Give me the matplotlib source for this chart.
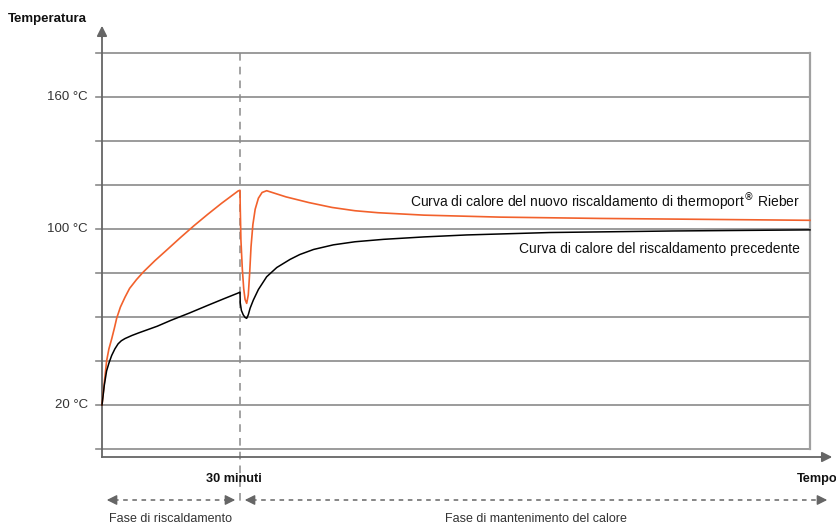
import numpy as np
import matplotlib
matplotlib.use("Agg")
import matplotlib.pyplot as plt
from matplotlib.patches import FancyArrowPatch

plt.rcParams['font.family'] = ['Liberation Sans', 'DejaVu Sans']

# time in minutes, temperature in °C
t_new = [0, 0.5, 1.0, 1.5, 2.1, 2.7, 3.2, 4, 5, 6, 7.5, 9, 11.5, 14, 17, 20, 23,
         26, 29.6, 30, 30.05, 30.2, 30.5, 30.8, 31.1, 31.45, 31.8, 32.1, 32.4,
         32.8, 33.3, 34, 34.8, 35.8, 37, 40, 45, 50, 55, 60, 70, 86.5, 108.3,
         130, 153.9]
temp_new = [20, 30, 40, 45.5, 50, 55, 59.5, 64.5, 69, 73, 77, 80.5, 85.6, 90.3,
            96, 101.5, 106.7, 111.7, 117.3, 117.6, 110, 95, 82, 73, 68, 66.2, 70,
            80, 92, 102, 109, 114, 116.6, 117.4, 116.6, 114.6, 112, 109.8, 108.3,
            107.4, 106.3, 105.4, 104.8, 104.4, 103.95]

t_old = [0, 0.5, 1.0, 1.5, 2.1, 2.8, 3.5, 4.2, 5.0, 6.5, 8, 10, 12, 15, 19, 23,
         26.5, 29.6, 30, 30.05, 30.3, 30.7, 31.1, 31.45, 31.8, 32.2, 32.9, 34,
         35.8, 38, 40.9, 43, 46, 50.3, 55, 61.2, 70, 79.3, 97.4, 124.1, 153.9]
temp_old = [20, 29, 35.5, 39, 42.5, 45.5, 47.8, 49.2, 50.2, 51.6, 52.8, 54.3,
            55.8, 58.5, 61.8, 65.3, 68.3, 70.9, 71.3, 66.5, 63, 61, 59.8, 59.4,
            61, 64, 67.7, 72.5, 78.3, 82.5, 86.2, 88.4, 90.7, 92.8, 94.2, 95.3,
            96.4, 97.3, 98.4, 99.1, 99.6]

grid_temps = np.arange(0, 181, 20)
tick_temps = [20, 100, 160]
tick_labels = ['20 °C', '100 °C', '160 °C']
t_switch = 30
t_end = 153.9

label_new = 'Curva di calore del nuovo riscaldamento di thermoport$^{®}$ Rieber'
label_old = 'Curva di calore del riscaldamento precedente'

orange = '#f2612c'
grey = '#8a8a8a'
dark = '#666666'

# scale: 4.6 px per minute, 2.2 px per degree, origin at pixel (102, 449)
W, H = 837, 525
fig = plt.figure(figsize=(W / 100, H / 100), dpi=100)
ax = fig.add_axes([0, 0, 1, 1])
ax.set_xlim(-102 / 4.6, (W - 102) / 4.6)
ax.set_ylim((449 - H) / 2.2, 449 / 2.2)
ax.axis('off')


def px(x, y):
    # pixel position -> data position (for layout only)
    return (x - 102) / 4.6, (449 - y) / 2.2


x_left = px(96, 0)[0]
y_axis = px(0, 457)[1]

# grid and right border
for g in grid_temps:
    ax.plot([x_left, t_end], [g, g], color=grey, lw=1.2, zorder=1)
ax.plot([t_end, t_end], [0, grid_temps[-1]], color='#a0a0a0', lw=1.6, zorder=1)

# axes with arrows
ax.plot([0, 0], [y_axis, px(0, 30)[1]], color=dark, lw=1.3, zorder=2)
ax.add_patch(FancyArrowPatch(px(102, 40), px(102, 23), arrowstyle='-|>',
                             mutation_scale=15, color=dark, lw=1.3))
ax.plot([0, px(826, 0)[0]], [y_axis, y_axis], color=dark, lw=1.3, zorder=2)
ax.add_patch(FancyArrowPatch(px(818, 457), px(835, 457), arrowstyle='-|>',
                             mutation_scale=15, color=dark, lw=1.3))

# vertical dashed marker at 30 minutes
ax.plot([t_switch, t_switch], [grid_temps[-1], px(0, 506)[1]], color=grey,
        lw=1.1, ls=(0, (5, 4)), zorder=1)

# curves
ax.plot(t_new, temp_new, color=orange, lw=1.2, zorder=3, solid_joinstyle='round')
ax.plot(t_old, temp_old, color='black', lw=1.1, zorder=3, solid_joinstyle='round')

# tick labels
for v, lab in zip(tick_temps, tick_labels):
    ax.text(px(88, 0)[0], v, lab, ha='right', va='center', fontsize=9.5, color='#333333')

ax.text(*px(8, 19), 'Temperatura', ha='left', va='center', fontsize=9.5,
        fontweight='bold', color='#111111')
ax.text(*px(234, 479), '30 minuti', ha='center', va='center', fontsize=9.2,
        fontweight='bold', color='#111111')
ax.text(*px(838, 479), 'Tempo', ha='right', va='center', fontsize=9.2,
        fontweight='bold', color='#111111')

ax.text(*px(800, 202), label_new, ha='right', va='center', fontsize=10, color='#111111')
ax.text(*px(800, 249), label_old, ha='right', va='center', fontsize=10, color='#111111')

# phase arrows
y_ph = 500
for a, b in [(104, 238), (242, 830)]:
    ax.plot([px(a + 10, 0)[0], px(b - 10, 0)[0]], [px(0, y_ph)[1]] * 2,
            color=dark, lw=1.1, ls=(0, (3, 3)))
    ax.add_patch(FancyArrowPatch(px(a + 14, y_ph), px(a, y_ph), arrowstyle='-|>',
                                 mutation_scale=15, color=dark, lw=1))
    ax.add_patch(FancyArrowPatch(px(b - 14, y_ph), px(b, y_ph), arrowstyle='-|>',
                                 mutation_scale=15, color=dark, lw=1))

ax.text(*px(171, 519), 'Fase di riscaldamento', ha='center', va='center',
        fontsize=9, color='#333333')
ax.text(*px(536, 519), 'Fase di mantenimento del calore', ha='center', va='center',
        fontsize=9, color='#333333')

fig.savefig('out.png', dpi=100)
